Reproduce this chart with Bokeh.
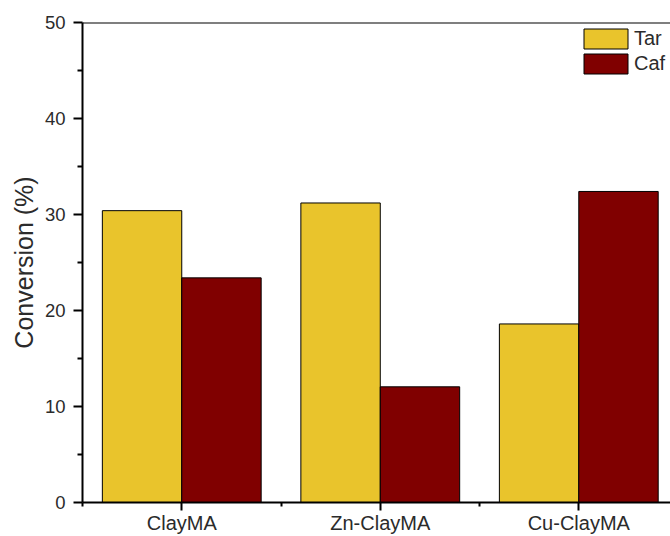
from bokeh.plotting import figure
from bokeh.models import Range1d, FixedTicker, Span
from bokeh.embed import file_html
from bokeh.resources import INLINE

categories = ["ClayMA", "Zn-ClayMA", "Cu-ClayMA"]
tar = [30.4, 31.2, 18.6]
caf = [23.4, 12.05, 32.4]
y_major = [0, 10, 20, 30, 40, 50]
y_minor = [5, 15, 25, 35, 45]

pos = list(range(1, len(categories) + 1))
bw = 0.4
tar_x = [p_ - bw / 2 for p_ in pos]
caf_x = [p_ + bw / 2 for p_ in pos]

FONT = "Liberation Sans"
TXT = "#2b2b2b"
YELLOW = "#E9C42C"
DRED = "#800000"

p = figure(width=670, height=536, output_backend="svg", toolbar_location=None,
           x_range=Range1d(0.5, 3.462), y_range=Range1d(0, 50),
           min_border_left=82, min_border_right=0, min_border_top=22, min_border_bottom=34)
p.outline_line_color = None
p.grid.visible = False
p.background_fill_color = "white"

p.vbar(x=tar_x, top=tar, width=bw, bottom=0, fill_color=YELLOW, line_color="black",
       line_width=1, legend_label="Tar")
p.vbar(x=caf_x, top=caf, width=bw, bottom=0, fill_color=DRED, line_color="black",
       line_width=1, legend_label="Caf")

p.add_layout(Span(location=50, dimension="width", line_color="black", line_width=2))

# y axis
ya = p.yaxis[0]
ya.ticker = FixedTicker(ticks=y_major, minor_ticks=y_minor)
ya.axis_label = "Conversion (%)"
ya.axis_label_text_font = FONT
ya.axis_label_text_font_size = "25px"
ya.axis_label_text_font_style = "normal"
ya.axis_label_text_color = TXT
ya.axis_label_standoff = 4
ya.major_label_text_font = FONT
ya.major_label_text_font_size = "18.5px"
ya.major_label_text_color = TXT
ya.major_label_standoff = 8

# x axis
xa = p.xaxis[0]
xa.ticker = FixedTicker(ticks=pos, minor_ticks=[0.5, 1.5, 2.5, 3.5])
xa.major_label_overrides = {p_: c for p_, c in zip(pos, categories)}
xa.major_label_text_font = FONT
xa.major_label_text_font_size = "20px"
xa.major_label_text_color = TXT
xa.major_label_standoff = 1

for ax in (xa, ya):
    ax.axis_line_width = 2
    ax.axis_line_color = "black"
    ax.major_tick_line_width = 2
    ax.minor_tick_line_width = 2
    ax.major_tick_in = 0
    ax.minor_tick_in = 0
ya.major_tick_out = 9
ya.minor_tick_out = 5
xa.major_tick_out = 8
xa.minor_tick_out = 4

lg = p.legend[0]
lg.location = (496, 426)
lg.padding = 0
lg.margin = 0
lg.border_line_color = None
lg.background_fill_alpha = 0
lg.glyph_width = 55
lg.glyph_height = 25
lg.label_height = 25
lg.spacing = -1
lg.label_standoff = 1
lg.label_text_font = FONT
lg.label_text_font_size = "20px"
lg.label_text_color = TXT

open("out.html", "w").write(file_html(p, INLINE))
